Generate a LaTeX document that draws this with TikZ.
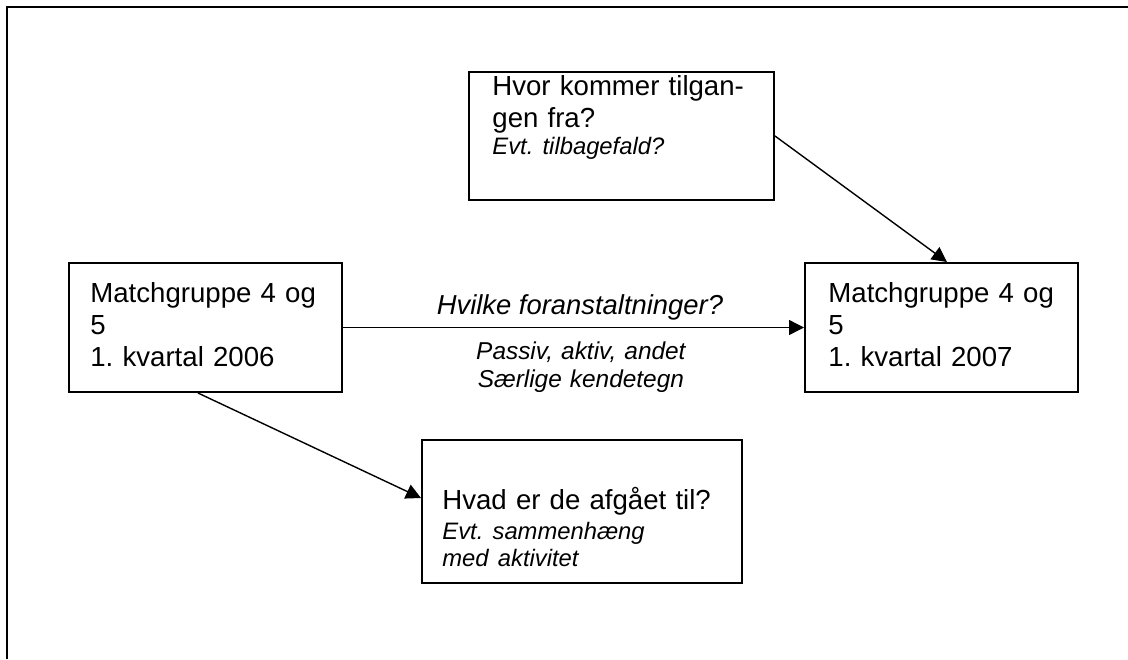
\documentclass[tikz,border=0pt]{standalone}
\usepackage{fontspec}
\setmainfont{Liberation Sans}
\usetikzlibrary{arrows.meta,positioning}
\newcommand{\mynotefont}{\fontsize{11.9}{13.5}\selectfont\itshape}
\frenchspacing

\begin{document}
\begin{tikzpicture}[x=0.5pt, y=-0.5pt,
                    frame/.style={line width=1pt, black},
                    mybox/.style={draw, line width=1pt, inner sep=0pt},
                    mytext/.style={inner sep=0pt, anchor=base west, align=left, text width=135pt,
                                   font=\fontsize{13.8}{16}\selectfont},
                    mylabel/.style={inner sep=0pt, anchor=base, align=center, text width=130pt,
                                    font=\fontsize{12.2}{14}\selectfont\itshape},
                    myarrow/.style={line width=0.7pt, -{Triangle[length=7.5pt,width=7.5pt]}},
                   ]

\useasboundingbox (0,0) rectangle (1128,659);

\draw[frame] (7,659) -- (7,6.5) -- (1128,6.5);

% boxes
\node[mybox, minimum width=152.5pt, minimum height=64pt]   (tilgang) at (621.5,136)   {};
\node[mybox, minimum width=136.5pt, minimum height=64.5pt] (start)   at (205.5,327.5) {};
\node[mybox, minimum width=136.5pt, minimum height=64.5pt] (slut)    at (941.5,327.5) {};
\node[mybox, minimum width=160pt,   minimum height=71.5pt] (afgang)  at (582,511.5)   {};

% box texts
\node[mytext] (tilgangtxt) at (492,95)  {Hvor kommer tilgan-\\gen fra?\\[-2.5pt]{\mynotefont Evt. tilbagefald?}};
\node[mytext] (starttxt)   at (90,302)  {Matchgruppe 4 og\\5\\1. kvartal 2006};
\node[mytext] (sluttxt)    at (828,302) {Matchgruppe 4 og\\5\\1. kvartal 2007};
\node[mytext] (afgangtxt)  at (442,509) {Hvad er de afg\aa et til?\\[-1pt]{\mynotefont Evt. sammenh\ae ng}\\[-2.5pt]{\mynotefont med aktivitet}};

% connectors
\draw[myarrow] (start) -- (slut)
      node[pos=0.514, anchor=base, inner sep=0pt, yshift=6.5pt, font=\fontsize{13.7}{16}\selectfont\itshape] (hvilke) {Hvilke foranstaltninger?}
      node[pos=0.516, mylabel, yshift=-16pt] (passiv) {Passiv, aktiv, andet\\S\ae rlige kendetegn};
\draw[myarrow] (tilgang.east) -- ([xshift=2.75pt]slut.north);
\draw[myarrow] ([xshift=-3.75pt]start.south) -- ([yshift=6.75pt]afgang.west);

\end{tikzpicture}
\end{document}
